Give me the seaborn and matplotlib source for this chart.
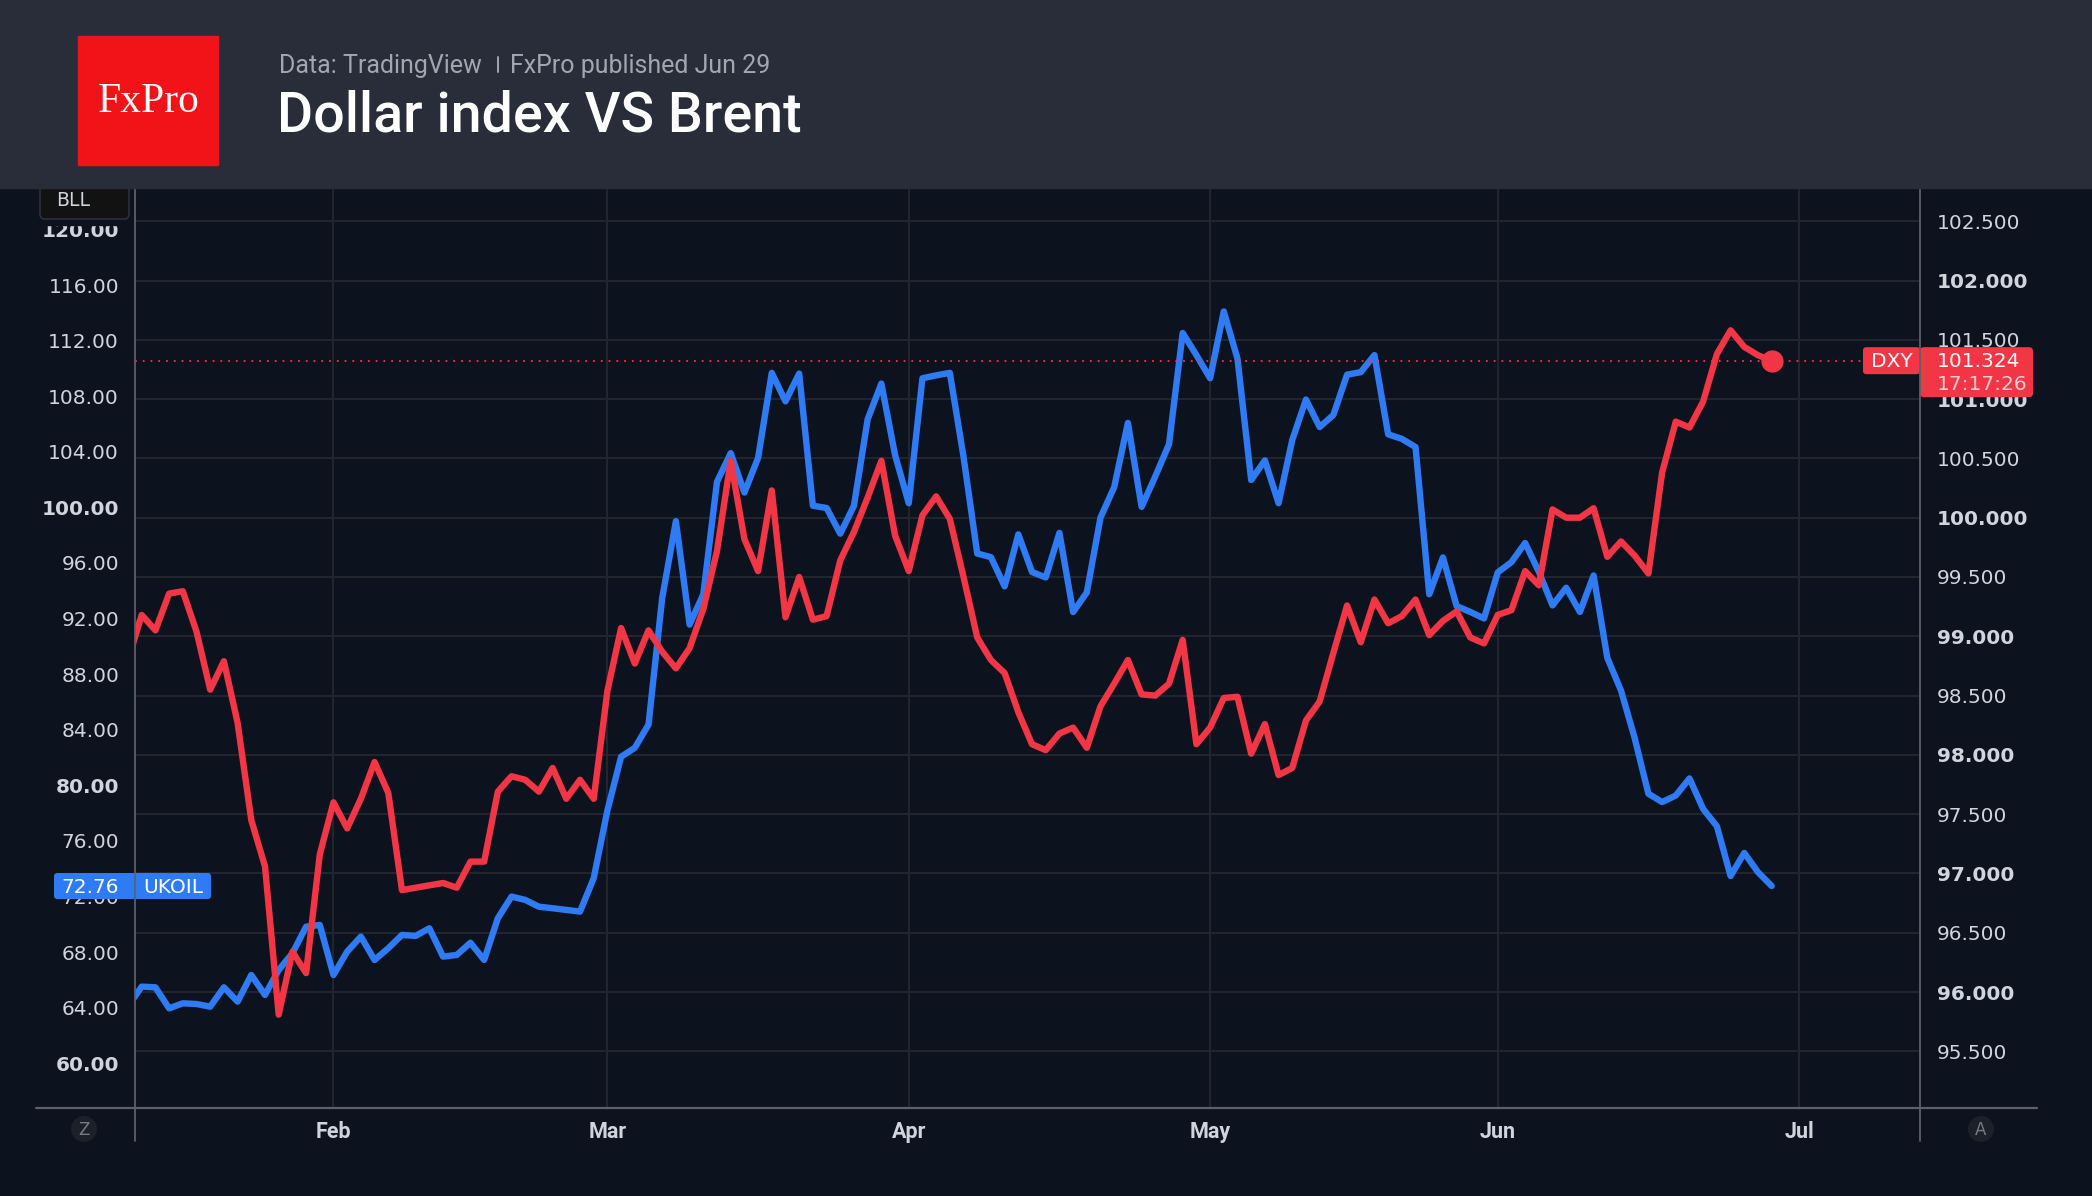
import numpy as np
import pandas as pd
import matplotlib
matplotlib.use("Agg")
import matplotlib.pyplot as plt
import matplotlib.transforms as mtransforms
from matplotlib.patches import Rectangle, FancyBboxPatch, Circle
import seaborn as sns

## Data: daily closes (business days from Jan 12)
brent = [
    64.1, 65.52, 65.47, 63.96, 64.32, 64.27, 64.08, 65.47, 64.44, 66.36,
    64.92, 66.72, 67.92, 69.83, 69.96, 66.36, 68.04, 69.12, 67.44, 68.28,
    69.24, 69.17, 69.72, 67.68, 67.8, 68.68, 67.44, 70.44, 72.0, 71.76,
    71.27, 71.16, 71.04, 70.92, 73.32, 78.2, 82.06, 82.7, 84.37, 93.49,
    99.01, 91.57, 93.75, 101.84, 103.9, 101.07, 103.56, 109.68, 107.63, 109.63,
    100.12, 99.96, 98.11, 100.12, 106.34, 108.91, 103.77, 100.3, 109.29, 109.5,
    109.68, 103.64, 96.68, 96.42, 94.32, 98.06, 95.35, 94.96, 98.17, 92.47,
    93.88, 99.27, 101.46, 106.08, 100.04, 102.23, 104.54, 112.55, 110.96, 109.29,
    114.1, 110.7, 101.97, 103.38, 100.3, 104.85, 107.76, 105.78, 106.65, 109.55,
    109.73, 110.96, 105.26, 104.93, 104.34, 93.75, 96.4, 92.9, 92.48, 92.01,
    95.32, 96.06, 97.44, 95.37, 92.95, 94.22, 92.48, 95.1, 89.18, 86.83,
    83.4, 79.4, 78.8, 79.27, 80.5, 78.3, 77.06, 73.48, 75.14, 73.76,
    72.76,
]
dxy = [
    98.8, 99.18, 99.05, 99.36, 99.38, 99.04, 98.55, 98.79, 98.27, 97.45,
    97.06, 95.81, 96.34, 96.16, 97.16, 97.6, 97.38, 97.63, 97.94, 97.68,
    96.86, 96.88, 96.9, 96.92, 96.88, 97.1, 97.1, 97.69, 97.82, 97.79,
    97.69, 97.89, 97.63, 97.79, 97.63, 98.54, 99.07, 98.77, 99.05, 98.87,
    98.73, 98.9, 99.23, 99.72, 100.48, 99.82, 99.55, 100.23, 99.16, 99.5,
    99.14, 99.17, 99.64, 99.88, 100.17, 100.48, 99.85, 99.55, 100.02, 100.18,
    99.99, 99.5, 98.99, 98.8, 98.69, 98.36, 98.09, 98.04, 98.18, 98.23,
    98.06, 98.41, 98.6, 98.8, 98.51, 98.5, 98.6, 98.97, 98.09, 98.23,
    98.48, 98.49, 98.01, 98.26, 97.83, 97.89, 98.29, 98.45, 98.86, 99.26,
    98.95, 99.31, 99.11, 99.17, 99.31, 99.01, 99.13, 99.21, 98.99, 98.94,
    99.18, 99.22, 99.55, 99.43, 100.07, 100.0, 100.0, 100.08, 99.67, 99.8,
    99.68, 99.53, 100.38, 100.81, 100.76, 100.98, 101.38, 101.58, 101.44, 101.37,
    101.324,
]
calendar = pd.bdate_range("2026-01-12", "2026-07-31")
month_labels = ["Feb", "Mar", "Apr", "May", "Jun", "Jul"]
brent_ticks = [60, 64, 68, 72, 76, 80, 84, 88, 92, 96, 100, 104, 108, 112, 116, 120]
dxy_ticks = [95.5, 96.0, 96.5, 97.0, 97.5, 98.0, 98.5, 99.0, 99.5, 100.0,
             100.5, 101.0, 101.5, 102.0, 102.5]
brent_last = 72.76
dxy_last = 101.324
last_time = "17:17:26"

BG = "#0c121e"
HEADER = "#292c39"
GRID = "#22262f"
AXIS = "#5d606b"
RED = "#f23645"
BLUE = "#2f7bf5"
TEXT = "#d1d4dc"

sns.set_style("dark", {"axes.facecolor": BG, "figure.facecolor": BG})
plt.rcParams["font.family"] = ["DejaVu Sans"]

W, H = 2092, 1196
fig = plt.figure(figsize=(W / 100, H / 100), dpi=100)
fig.patch.set_facecolor(BG)

# chart panel in pixels: x 135..1920, y 188..1107
ax_b = fig.add_axes([135 / W, 1 - 1107 / H, (1920 - 135) / W, (1107 - 188) / H])
ax_d = ax_b.twinx()

x = np.arange(len(dxy))
sns.lineplot(x=x, y=brent, ax=ax_b, color=BLUE, lw=4.6, legend=False,
             solid_joinstyle="round", solid_capstyle="round", zorder=3)
sns.lineplot(x=x, y=dxy, ax=ax_d, color=RED, lw=4.6, legend=False,
             solid_joinstyle="round", solid_capstyle="round", zorder=3)
ax_d.plot(x[-1], dxy[-1], "o", ms=15, color=RED, zorder=4)
ax_d.axhline(dxy_last, color=RED, lw=1.3, ls=(0, (1, 3.3)), zorder=2)

# grid: months vertically, dxy levels horizontally
month_pos = [int(np.argmax(calendar.month == m)) for m in range(2, 8)]
for p in month_pos:
    ax_b.axvline(p, color=GRID, lw=1.4, zorder=0)
hz = mtransforms.blended_transform_factory(ax_b.transAxes, ax_d.transData)
for v in dxy_ticks:
    ax_b.plot([0, 1], [v, v], transform=hz, color=GRID, lw=1.4, zorder=0)

ax_b.set_xlim(0.51, 130.83)
ax_b.set_ylim(56.86, 122.98)
ax_d.set_ylim(95.031, 102.78)

ax_b.set_yticks(brent_ticks, labels=[f"{v:.2f}" for v in brent_ticks])
ax_d.set_yticks(dxy_ticks, labels=[f"{v:.3f}" for v in dxy_ticks])
for lbl, v in zip(ax_b.get_yticklabels(), brent_ticks):
    if v % 20 == 0:
        lbl.set_fontweight("bold")
for lbl, v in zip(ax_d.get_yticklabels(), dxy_ticks):
    if v == int(v):
        lbl.set_fontweight("bold")
ax_b.tick_params(axis="y", length=0, pad=11.5, labelsize=14.5, labelcolor=TEXT)
ax_d.tick_params(axis="y", length=0, pad=12, labelsize=14.5, labelcolor=TEXT)
ax_b.set_xticks(month_pos, labels=month_labels)
ax_b.tick_params(axis="x", length=0, pad=10, labelcolor=TEXT)
for lbl in ax_b.get_xticklabels():
    lbl.set_family(["Roboto", "DejaVu Sans"])
    lbl.set_fontweight("bold")
    lbl.set_fontsize(15.5)
ax_b.set_xlabel("")
ax_b.set_ylabel("")
ax_d.set_ylabel("")
for a in (ax_b, ax_d):
    for s in a.spines.values():
        s.set_visible(False)

# overlay in pixel coordinates for the frame, header and price labels
ov = fig.add_axes([0, 0, 1, 1], zorder=5)
ov.set_xlim(0, W)
ov.set_ylim(H, 0)
ov.axis("off")

ov.add_patch(Rectangle((0, 188), 134, 37, color=BG, zorder=1))
ov.add_patch(FancyBboxPatch((40, 178), 89, 41, boxstyle="round,pad=0,rounding_size=5",
                            fc="#121212", ec="#2c303a", lw=1.2, zorder=2))
ov.text(73.5, 201, "BLL", ha="center", va="center", fontsize=13.5, color=TEXT, zorder=3)

# header
ov.add_patch(Rectangle((0, 0), W, 188, color=HEADER, zorder=4))
ov.add_patch(Rectangle((78, 36), 140, 129, color="#f21318", zorder=5))
ov.text(149, 111.5, "FxPro", ha="center", va="baseline", fontsize=30, color="white",
        family=["Liberation Serif", "DejaVu Serif"], zorder=6)
ov.text(279, 72.5, "Data: TradingView", ha="left", va="baseline", fontsize=18,
        color="#a3a6af", family=["Roboto", "DejaVu Sans"], zorder=6)
ov.plot([498, 498], [57, 72], color="#a3a6af", lw=1.4, zorder=6)
ov.text(510, 72.5, "FxPro published Jun 29", ha="left", va="baseline", fontsize=18,
        color="#a3a6af", family=["Roboto", "DejaVu Sans"], zorder=6)
ov.text(277, 132, "Dollar index VS Brent", ha="left", va="baseline", fontsize=40,
        color="white", fontweight="medium", family=["Roboto", "DejaVu Sans"], zorder=6)

# price labels at the last values
yb = H - ax_b.transData.transform((0, brent_last))[1]
ov.add_patch(FancyBboxPatch((54, yb - 13), 157, 26, boxstyle="round,pad=0,rounding_size=3",
                            fc=BLUE, ec="none", zorder=2))
ov.text(119, yb + 1, f"{brent_last:.2f}", ha="right", va="center", fontsize=14.5,
        color="white", zorder=3)
ov.text(143, yb + 1, "UKOIL", ha="left", va="center", fontsize=14.5, color="white", zorder=3)

yd = H - ax_d.transData.transform((0, dxy_last))[1]
ov.add_patch(FancyBboxPatch((1863, yd - 13.5), 57, 27, boxstyle="round,pad=0,rounding_size=3",
                            fc=RED, ec="none", zorder=2))
ov.add_patch(FancyBboxPatch((1920, yd - 13.5), 113, 50, boxstyle="round,pad=0,rounding_size=4",
                            fc=RED, ec="none", zorder=2))
ov.text(1891.5, yd + 1, "DXY", ha="center", va="center", fontsize=14.5, color="white", zorder=3)
ov.text(1937, yd + 1, f"{dxy_last:.3f}", ha="left", va="center", fontsize=14.5,
        color="white", zorder=3)
ov.text(1937, yd + 24, last_time, ha="left", va="center", fontsize=14.5,
        color="#fbcdd1", zorder=3)

# frame lines
ov.plot([135, 135], [188, 1141], color=AXIS, lw=1.3, zorder=3)
ov.plot([1920, 1920], [188, 1141], color=AXIS, lw=1.3, zorder=3)
ov.plot([36, 2037], [1108, 1108], color=AXIS, lw=1.6, zorder=3)

for cx, letter in [(84, "Z"), (1981, "A")]:
    ov.add_patch(Circle((cx, 1129), 13, fc="#1c2029", ec="none", zorder=2))
    ov.text(cx, 1130, letter, ha="center", va="center", fontsize=12, color="#787b86", zorder=3)

fig.savefig("out.png", dpi=100, facecolor=BG)
